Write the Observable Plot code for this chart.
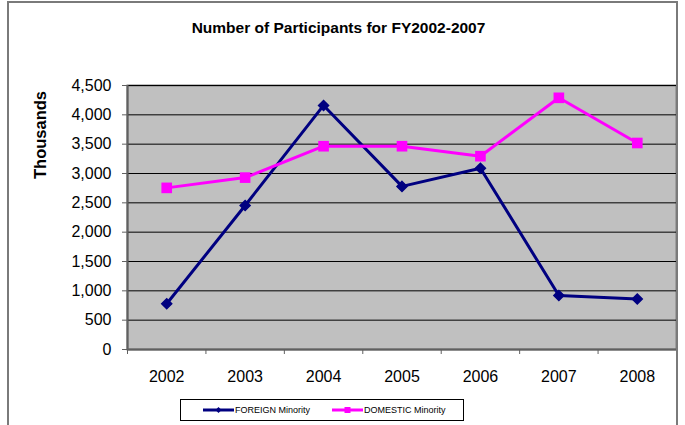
<!DOCTYPE html>
<html>
<head>
<meta charset="utf-8">
<script src="https://cdn.jsdelivr.net/npm/d3@7"></script>
<script src="https://cdn.jsdelivr.net/npm/@observablehq/plot@0.6"></script>
<style>
  html, body { margin: 0; padding: 0; background: #fff; }
  #wrap { position: relative; width: 685px; height: 425px; overflow: hidden; font-family: "Liberation Sans", Arial, sans-serif; }
  #wrap > svg { position: absolute; left: 0; top: 0; }
  #border { position: absolute; left: 7px; top: 1px; width: 671px; height: 460px; border: 2px solid #7a7a7a; box-sizing: border-box; }
  #title { position: absolute; left: 0; width: 677px; top: 19px; text-align: center; font-weight: bold; font-size: 15.5px; color: #000; }
  #ylabel { position: absolute; left: 40px; top: 135px; transform: translate(-50%, -50%) rotate(-90deg); font-weight: bold; font-size: 16.5px; white-space: nowrap; }
  #legend { position: absolute; left: 180px; top: 399px; width: 284px; height: 22px; border: 1px solid #000; box-sizing: border-box; font-size: 9px; }
  .item { position: absolute; top: 4px; height: 12px; white-space: nowrap; }
  .item svg { position: absolute; left: 0; top: 1px; }
  .item span { position: absolute; left: 32px; top: 0px; line-height: 12px; white-space: nowrap; }
</style>
</head>
<body>
<div id="wrap">
  <div id="border"></div>
  <div id="title">Number of Participants for FY2002-2007</div>
  <div id="ylabel">Thousands</div>
  <div id="legend">
    <div class="item" style="left:22px"><svg width="31" height="10"><line x1="0" y1="5" x2="31" y2="5" stroke="#000080" stroke-width="3"/><path d="M15.5,2 L18.5,5 L15.5,8 L12.5,5Z" fill="#000080"/></svg><span>FOREIGN Minority</span></div>
    <div class="item" style="left:151px"><svg width="31" height="10"><line x1="0" y1="5" x2="31" y2="5" stroke="#ff00ff" stroke-width="3"/><rect x="12.5" y="2" width="6" height="6" fill="#ff00ff"/></svg><span>DOMESTIC Minority</span></div>
  </div>
</div>
<script>
const years = [2002, 2003, 2004, 2005, 2006, 2007, 2008];
const foreign = [780, 2455, 4160, 2780, 3090, 920, 860];
const domestic = [2755, 2930, 3465, 3465, 3295, 4290, 3520];
const yTicks = [0, 500, 1000, 1500, 2000, 2500, 3000, 3500, 4000, 4500];

const dataF = years.map((y, i) => ({year: y, value: foreign[i]}));
const dataD = years.map((y, i) => ({year: y, value: domestic[i]}));
const bounds = [...years.map(y => y - 0.5), years[years.length - 1] + 0.5];

const chart = Plot.plot({
  width: 685,
  height: 425,
  marginLeft: 127,
  marginRight: 9,
  marginTop: 85,
  marginBottom: 76,
  style: {background: "transparent", fontFamily: "'Liberation Sans', Arial, sans-serif", overflow: "visible"},
  x: {type: "linear", domain: [bounds[0], bounds[bounds.length - 1]]},
  y: {domain: [0, 4500]},
  marks: [
    Plot.frame({fill: "#c0c0c0", stroke: "#808080", strokeWidth: 2}),
    Plot.gridY(yTicks.slice(1), {stroke: "#000", strokeOpacity: 1, strokeWidth: 1}),
    Plot.ruleX([bounds[0]], {stroke: "#606060", strokeWidth: 2}),
    Plot.ruleY([0], {stroke: "#606060", strokeWidth: 2}),
    Plot.axisY(yTicks, {tickFormat: d3.format(","), tickSize: 5, tickPadding: 11, fontSize: 16, stroke: "#606060", color: "#000", label: null}),
    Plot.axisX(bounds, {tickFormat: () => "", tickSize: 5, stroke: "#606060", label: null}),
    Plot.axisX(years, {tickFormat: d => String(d), tickSize: 0, tickPadding: 21, fontSize: 16, label: null}),
    Plot.line(dataF, {x: "year", y: "value", stroke: "#000080", strokeWidth: 3}),
    Plot.dot(dataF, {x: "year", y: "value", symbol: "diamond2", r: 4.5, fill: "#000080", stroke: "#000080"}),
    Plot.line(dataD, {x: "year", y: "value", stroke: "#ff00ff", strokeWidth: 3}),
    Plot.dot(dataD, {x: "year", y: "value", symbol: "square", r: 6, fill: "#ff00ff"})
  ]
});
document.getElementById("wrap").insertBefore(chart, document.getElementById("border"));
</script>
</body>
</html>
